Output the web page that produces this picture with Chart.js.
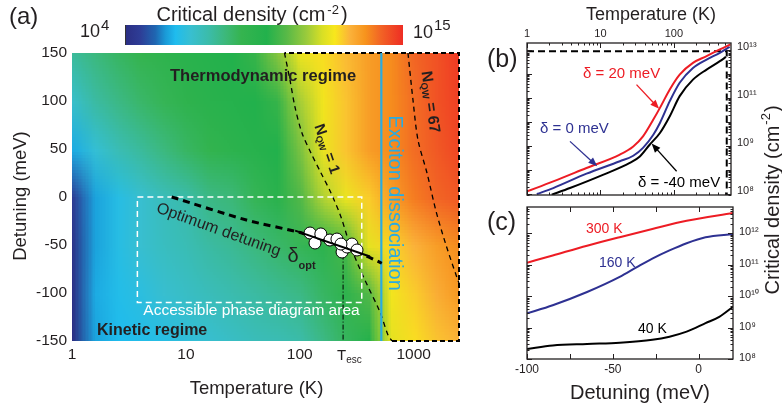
<!DOCTYPE html>
<html>
<head>
<meta charset="utf-8">
<script src="https://cdn.jsdelivr.net/npm/chart.js@4.4.1/dist/chart.umd.min.js"></script>
<style>
  html, body { margin: 0; padding: 0; background: #fff; }
  #wrap { position: relative; width: 782px; height: 410px; overflow: hidden; background: #fff; }
  #wrap canvas { position: absolute; left: 0; top: 0; }
</style>
</head>
<body>
<div id="wrap">
  <canvas id="ca" width="782" height="410"></canvas>
  <canvas id="cb" width="782" height="410"></canvas>
  <canvas id="cc" width="782" height="410"></canvas>
</div>
<script>
// ---------- (a) critical density map: log10(n / cm^-2) vs temperature and detuning ----------
const mapTemps = [1, 1.585, 2.512, 3.981, 6.31, 10, 15.85, 25.12, 39.81, 63.1, 100, 158.5, 251.2, 398.1, 631, 1000, 1585, 2512];
const mapDetunings = [150, 100, 50, 0, -50, -100, -150];
const mapLogDensity = [
  [7.5, 7.9, 8.3, 8.6, 8.9, 9.2, 9.4, 9.6, 9.9, 10.9, 12.1, 12.4, 12.8, 13.3, 13.6, 14.1, 14.4, 14.8],
  [6.7, 7.4, 7.8, 8.2, 8.5, 8.9, 9.2, 9.4, 9.6, 9.9, 11.3, 12.2, 12.7, 13.3, 13.6, 14.0, 14.4, 14.7],
  [5.8, 6.5, 7.1, 7.5, 7.9, 8.3, 8.7, 9.0, 9.3, 9.6, 10.8, 12.1, 12.7, 13.3, 13.6, 14.0, 14.3, 14.6],
  [4.5, 5.7, 6.2, 6.6, 7.0, 7.3, 7.8, 8.0, 8.5, 9.2, 10.3, 11.4, 12.1, 12.6, 13.3, 13.8, 14.1, 14.3],
  [4.2, 5.7, 6.2, 6.6, 6.9, 7.1, 7.4, 7.6, 7.9, 8.2, 8.5, 9.0, 10.2, 12.0, 12.5, 12.9, 13.3, 13.6],
  [4.1, 5.8, 6.1, 6.3, 6.6, 6.8, 7.0, 7.2, 7.4, 7.6, 7.8, 8.3, 8.9, 10.3, 12.2, 12.6, 13.0, 13.4],
  [4.0, 5.7, 6.0, 6.1, 6.2, 6.4, 6.6, 6.8, 7.0, 7.1, 7.3, 7.8, 8.4, 9.5, 12.0, 12.4, 12.7, 12.9]
];

// colour scale of the map (log10 density -> colour)
const cbarMin = 4, cbarMax = 15;
const cmapLevels = [4.0, 4.6, 5.2, 5.6, 6.0, 6.6, 7.3, 8.0, 8.6, 9.6, 10.4, 11.2, 11.8, 12.3, 12.9, 13.5, 14.1, 15.0];
const cmapColors = ['#2b2e83', '#2e3d96', '#1f66b1', '#1a9ad7', '#1fbcee', '#38bfd0', '#3bbcaa', '#3cb878', '#35b44f',
                    '#22b14c', '#58b947', '#9ccb3b', '#d8df25', '#f8e71c', '#fbb23a', '#f7941d', '#f26525', '#ee2d24'];

const tempTicksA = [1, 10, 100, 1000];
const detTicksA = [-150, -100, -50, 0, 50, 100, 150];

// boundaries and curves drawn on the map (temperature K, detuning meV)
const nqw1Temps = [73.4, 82, 90.7, 104.5, 125.4, 153.5, 188, 230, 276, 366, 506, 595, 645];
const nqw1Det   = [150, 121.9, 93.8, 66.7, 45.8, 25, 4.2, -20.8, -50, -84.4, -119.8, -143.8, -150];
const nqw1BoxTemps = [645, 2500, 2500, 73.4];
const nqw1BoxDet   = [-150, -150, 150, 150];
const nqw67Temps = [891, 986, 1091, 1309, 1570, 1922, 2400, 2500];
const nqw67Det   = [150, 101, 59.4, 25, -14.6, -50, -84, -89.6];
const dissocTemps = [520, 520];
const dissocDet   = [150, -150];
const escTemps = [240, 240];
const escDet   = [-60, -150];
const areaTemps = [3.75, 350, 350, 3.75, 3.75];
const areaDet   = [0, 0, -110, -110, 0];
const optTemps = [7.5, 34, 107, 359, 525];
const optDet   = [0, -24, -38, -60, -69];
const fitTemps = [91, 413];
const fitDet   = [-35, -62];
const expTemps = [123, 136, 153, 184, 212, 235, 260, 287, 318, 230];
const expDet   = [-37.5, -47.9, -38.5, -44.8, -43.8, -57.3, -52.1, -49.0, -55.2, -49.0];

// ---------- (b) critical density vs temperature ----------
const tempTicksB = [1, 10, 100];
const tempsB20  = [1, 2.28, 6.46, 18.4, 28, 38, 52.5, 64.6, 88, 120, 182, 279, 423, 589];
const logNB20   = [7.1, 7.52, 8.08, 8.64, 8.98, 9.40, 10.1, 10.59, 11.36, 11.98, 12.47, 12.75, 13.03, 13.24];
const tempsB0   = [1.36, 2.28, 6.46, 18.4, 28, 38, 52.5, 64.6, 88, 120, 182, 279, 423, 575];
const logNB0    = [6.99, 7.24, 7.84, 8.36, 8.59, 8.92, 9.47, 9.96, 10.87, 11.64, 12.26, 12.61, 12.89, 13.14];
const tempsBm40 = [2.17, 3.85, 11, 25.1, 34.4, 46.8, 64.6, 88, 120, 182, 279, 423, 513];
const logNBm40  = [6.96, 7.24, 7.8, 8.29, 8.56, 9.05, 9.54, 10.24, 11.08, 11.77, 12.19, 12.54, 12.72];
const boxTempsB = [1, 525, 525];
const boxLogNB  = [12.96, 12.96, 6.95];
const densTickValsB   = [1e7, 1e9, 1e11, 1e13];
const densTickPowersB = [8, 9, 11, 13];

// ---------- (c) critical density vs detuning ----------
const detTicksC = [-100, -50, 0];
const detC300  = [-100, -85, -65, -46, -27, -7, 20];
const logNC300 = [11.06, 11.29, 11.6, 11.87, 12.13, 12.39, 12.64];
const detC160  = [-100, -85, -65, -46, -36, -27, -17, -7, 4, 20];
const logNC160 = [9.45, 9.71, 10.13, 10.61, 10.92, 11.19, 11.45, 11.68, 11.87, 11.97];
const detC40   = [-100, -85, -65, -46, -27, -17, -7, 4, 12, 20];
const logNC40  = [8.32, 8.43, 8.48, 8.52, 8.61, 8.71, 8.87, 9.14, 9.34, 9.66];
const densTickPowersC = [8, 9, 10, 11, 12];

// ---------- helpers ----------
const FONT = '"Liberation Sans", Arial, Helvetica, sans-serif';
const INK = '#231f20';
const RED = '#ed1c24', BLUE = '#2e3192', SKY = '#29abe2';
Chart.defaults.font.family = FONT;
Chart.defaults.color = INK;

const SUP = { '0': '⁰', '1': '¹', '2': '²', '3': '³', '4': '⁴', '5': '⁵', '6': '⁶', '7': '⁷', '8': '⁸', '9': '⁹', '-': '⁻' };
const sup = s => String(s).split('').map(c => SUP[c]).join('');
const pts = (xs, ys) => xs.map((x, i) => ({ x, y: ys[i] }));
const ptsLog = (xs, ls) => xs.map((x, i) => ({ x, y: Math.pow(10, ls[i]) }));

function lineSet(data, color, width, dash, extra) {
  return Object.assign({
    data, showLine: true, borderColor: color, borderWidth: width, borderDash: dash || [],
    pointRadius: 0, pointHoverRadius: 0, fill: false, tension: 0
  }, extra || {});
}

function hexToRgb(h) { const n = parseInt(h.slice(1), 16); return [(n >> 16) & 255, (n >> 8) & 255, n & 255]; }
const cmapRgb = cmapColors.map(hexToRgb);
function colourFor(v) {
  if (v <= cmapLevels[0]) return cmapRgb[0];
  for (let i = 1; i < cmapLevels.length; i++) {
    if (v <= cmapLevels[i]) {
      const t = (v - cmapLevels[i - 1]) / (cmapLevels[i] - cmapLevels[i - 1]);
      const a = cmapRgb[i - 1], b = cmapRgb[i];
      return a.map((c, k) => Math.round(c + (b[k] - c) * t));
    }
  }
  return cmapRgb[cmapRgb.length - 1];
}

// text made of runs (for sub/superscripts), optionally rotated about (x, y)
function rich(ctx, parts, x, y, align, angle, baseline) {
  ctx.save();
  ctx.translate(x, y);
  if (angle) ctx.rotate(angle * Math.PI / 180);
  ctx.textAlign = 'left';
  ctx.textBaseline = baseline || 'alphabetic';
  const f = p => (p.b ? 'bold ' : '') + p.s + 'px ' + FONT;
  let w = 0;
  for (const p of parts) { ctx.font = f(p); w += ctx.measureText(p.t).width + (p.gap || 0); }
  let cx = align === 'center' ? -w / 2 : align === 'right' ? -w : 0;
  for (const p of parts) {
    ctx.font = f(p);
    cx += p.gap || 0;
    ctx.fillText(p.t, cx, p.dy || 0);
    cx += ctx.measureText(p.t).width;
  }
  ctx.restore();
}

function arrow(ctx, x0, y0, x1, y1, color) {
  const ang = Math.atan2(y1 - y0, x1 - x0), L = 9, W = 3.6;
  ctx.save();
  ctx.strokeStyle = color; ctx.fillStyle = color; ctx.lineWidth = 1.3;
  ctx.beginPath(); ctx.moveTo(x0, y0);
  ctx.lineTo(x1 - L * 0.8 * Math.cos(ang), y1 - L * 0.8 * Math.sin(ang)); ctx.stroke();
  ctx.beginPath(); ctx.moveTo(x1, y1);
  ctx.lineTo(x1 - L * Math.cos(ang) + W * Math.sin(ang), y1 - L * Math.sin(ang) - W * Math.cos(ang));
  ctx.lineTo(x1 - L * Math.cos(ang) - W * Math.sin(ang), y1 - L * Math.sin(ang) + W * Math.cos(ang));
  ctx.closePath(); ctx.fill();
  ctx.restore();
}

// frame with inward major/minor ticks on all four sides
const framePlugin = {
  id: 'frame',
  afterDatasetsDraw(chart, args, o) {
    const { ctx, chartArea: a, scales: { x, y } } = chart;
    ctx.save();
    ctx.strokeStyle = INK; ctx.lineWidth = 1;
    const seg = (x0, y0, x1, y1) => { ctx.beginPath(); ctx.moveTo(x0, y0); ctx.lineTo(x1, y1); ctx.stroke(); };
    const xs = (list, len) => list.forEach(v => { const p = Math.round(x.getPixelForValue(v)) + 0.5;
      seg(p, a.top, p, a.top + len); seg(p, a.bottom, p, a.bottom - len); });
    const ys = (list, len) => list.forEach(v => { const p = Math.round(y.getPixelForValue(v)) + 0.5;
      seg(a.left, p, a.left + len, p); seg(a.right, p, a.right - len, p); });
    xs(o.xMajor, 5); xs(o.xMinor, 2.5); ys(o.yMajor, 5); ys(o.yMinor, 2.5);
    ctx.lineWidth = 1.3;
    ctx.strokeRect(a.left, a.top, a.right - a.left, a.bottom - a.top);
    ctx.restore();
  }
};

// ---------- (a) ----------
const densityMap = {
  id: 'densityMap',
  beforeDatasetsDraw(chart) {
    const { ctx, chartArea: a, scales: { x, y } } = chart;
    const nc = mapTemps.length, nr = mapDetunings.length;
    const off = document.createElement('canvas');
    off.width = nc; off.height = nr;
    const octx = off.getContext('2d');
    const img = octx.createImageData(nc, nr);
    for (let r = 0; r < nr; r++) for (let c = 0; c < nc; c++) {
      const rgb = colourFor(mapLogDensity[r][c]), k = (r * nc + c) * 4;
      img.data[k] = rgb[0]; img.data[k + 1] = rgb[1]; img.data[k + 2] = rgb[2]; img.data[k + 3] = 255;
    }
    octx.putImageData(img, 0, 0);
    const x0 = x.getPixelForValue(mapTemps[0]), x1 = x.getPixelForValue(mapTemps[nc - 1]);
    const y0 = y.getPixelForValue(mapDetunings[0]), y1 = y.getPixelForValue(mapDetunings[nr - 1]);
    const hx = (x1 - x0) / (nc - 1) / 2, hy = (y1 - y0) / (nr - 1) / 2;
    ctx.save();
    ctx.beginPath(); ctx.rect(a.left, a.top, a.right - a.left, a.bottom - a.top); ctx.clip();
    ctx.imageSmoothingEnabled = true; ctx.imageSmoothingQuality = 'low';
    ctx.drawImage(off, x0 - hx, y0 - hy, (x1 - x0) + 2 * hx, (y1 - y0) + 2 * hy);
    ctx.restore();
  }
};

const panelAText = {
  id: 'panelAText',
  afterDraw(chart) {
    const ctx = chart.ctx;
    ctx.save();
    ctx.fillStyle = INK;
    rich(ctx, [{ t: '(a)', s: 24 }], 9, 24, 'left');
    rich(ctx, [{ t: 'Critical density (cm', s: 20 }, { t: '-2', s: 13, dy: -7, gap: 2 }, { t: ')', s: 20, gap: 2 }], 252, 21, 'center');
    // colour bar
    const bx0 = 125, bx1 = 403, by0 = 25, by1 = 45;
    const g = ctx.createLinearGradient(bx0, 0, bx1, 0);
    cmapLevels.forEach((lv, i) => g.addColorStop((lv - cbarMin) / (cbarMax - cbarMin), cmapColors[i]));
    ctx.fillStyle = g; ctx.fillRect(bx0, by0, bx1 - bx0, by1 - by0);
    ctx.fillStyle = '#333'; ctx.fillRect(bx0, by0, 1, by1 - by0);
    ctx.fillStyle = INK;
    rich(ctx, [{ t: '10', s: 18 }, { t: String(cbarMin), s: 15, dy: -7, gap: 1 }], 80, 37, 'left');
    rich(ctx, [{ t: '10', s: 18 }, { t: String(cbarMax), s: 15, dy: -8, gap: 1 }], 413, 38, 'left');
    // axis titles
    rich(ctx, [{ t: 'Temperature (K)', s: 18.5 }], 256.5, 394, 'center');
    rich(ctx, [{ t: 'Detuning (meV)', s: 18.5 }], 21, 196, 'center', -90, 'middle');
    rich(ctx, [{ t: 'T', s: 15 }, { t: 'esc', s: 10, dy: 3 }], 337, 360, 'left');
    // regime labels
    rich(ctx, [{ t: 'Thermodynamic regime', s: 16.5, b: 1 }], 170, 81, 'left');
    rich(ctx, [{ t: 'Kinetic regime', s: 16, b: 1 }], 97, 335, 'left');
    rich(ctx, [{ t: 'Optimum detuning', s: 16 }], 218.5, 230, 'center', 19.7, 'middle');
    rich(ctx, [{ t: 'δ', s: 20 }], 293, 256, 'center', 0, 'middle');
    rich(ctx, [{ t: 'opt', s: 11, b: 1 }], 307, 266, 'center', 0, 'middle');
    rich(ctx, [{ t: 'N', s: 15, b: 1 }, { t: 'QW', s: 9, b: 1, dy: 4 }, { t: ' = 1', s: 15, b: 1 }], 326.5, 149, 'center', 71, 'middle');
    rich(ctx, [{ t: 'N', s: 15.5, b: 1 }, { t: 'QW', s: 9.5, b: 1, dy: 4 }, { t: ' = 67', s: 15.5, b: 1 }], 430, 102, 'center', 82, 'middle');
    ctx.fillStyle = '#fff';
    rich(ctx, [{ t: 'Accessible phase diagram area', s: 15.5 }], 251.5, 315, 'center');
    ctx.fillStyle = SKY;
    rich(ctx, [{ t: 'Exciton dissociation', s: 20 }], 395, 203, 'center', 90, 'middle');
    ctx.restore();
  }
};

new Chart(document.getElementById('ca'), {
  type: 'scatter',
  data: {
    datasets: [
      lineSet(pts(fitTemps, fitDet), '#000', 2),
      { data: pts(expTemps, expDet), showLine: false, pointRadius: 6, pointHoverRadius: 6,
        pointBackgroundColor: '#fff', pointBorderColor: '#000', pointBorderWidth: 1 },
      lineSet(pts(optTemps, optDet), '#000', 3, [7, 5], { tension: 0.25 }),
      lineSet(pts(escTemps, escDet), '#000', 1, [5, 2, 1, 2]),
      lineSet(pts(areaTemps, areaDet), '#fff', 1.5, [6, 4]),
      lineSet(pts(dissocTemps, dissocDet), SKY, 2.2),
      lineSet(pts(nqw67Temps, nqw67Det), '#000', 1.3, [5, 4], { tension: 0.3, clip: false }),
      lineSet(pts(nqw1BoxTemps, nqw1BoxDet), '#000', 2, [5, 3], { clip: false }),
      lineSet(pts(nqw1Temps, nqw1Det), '#000', 1.3, [5, 4], { tension: 0.3, clip: false })
    ]
  },
  options: {
    responsive: false, animation: false, events: [],
    layout: { padding: { left: 0, right: 323, top: 53, bottom: 0 } },
    plugins: { legend: { display: false }, tooltip: { enabled: false } },
    scales: {
      x: {
        type: 'logarithmic', position: 'bottom', min: 1, max: 2500,
        afterBuildTicks: s => { s.ticks = tempTicksA.map(v => ({ value: v })); },
        afterFit: s => { s.height = 69; },
        grid: { display: false, drawTicks: false }, border: { display: false },
        ticks: { callback: v => String(v), font: { size: 15.5 }, color: INK, padding: 4, maxRotation: 0, autoSkip: false }
      },
      y: {
        type: 'linear', min: -150, max: 150,
        afterBuildTicks: s => { s.ticks = detTicksA.map(v => ({ value: v })); },
        afterFit: s => { s.width = 72; },
        grid: { display: false, drawTicks: false }, border: { display: false },
        ticks: { callback: v => String(v), font: { size: 15.5 }, color: INK, padding: 5 }
      }
    }
  },
  plugins: [densityMap, panelAText]
});

// ---------- (b) ----------
const xMinorB = [], yMinorB = [], yMajorB = [];
for (let e = 0; e <= 2; e++) for (let k = 2; k <= 9; k++) { const v = k * Math.pow(10, e); if (v < 600) xMinorB.push(v); }
for (let e = 6; e <= 13; e++) {
  if (e >= 7) yMajorB.push(Math.pow(10, e));
  for (let k = 2; k <= 9; k++) { const v = k * Math.pow(10, e); if (v > Math.pow(10, 6.95) && v < Math.pow(10, 13.3)) yMinorB.push(v); }
}

const panelBText = {
  id: 'panelBText',
  afterDraw(chart) {
    const { ctx, scales: { x, y } } = chart;
    const P = (t, l) => [x.getPixelForValue(t), y.getPixelForValue(Math.pow(10, l))];
    ctx.save();
    ctx.fillStyle = INK;
    rich(ctx, [{ t: '(b)', s: 25 }], 487, 67, 'left');
    rich(ctx, [{ t: 'Temperature (K)', s: 18 }], 651, 20, 'center');
    ctx.fillStyle = RED;  rich(ctx, [{ t: 'δ = 20 meV', s: 15 }], 583, 78, 'left');
    ctx.fillStyle = BLUE; rich(ctx, [{ t: 'δ = 0 meV', s: 15 }], 540, 132.5, 'left');
    ctx.fillStyle = '#000'; rich(ctx, [{ t: 'δ = -40 meV', s: 15 }], 638, 186.5, 'left');
    let a = P(31, 11.56), b = P(63, 10.55); arrow(ctx, a[0], a[1], b[0], b[1], RED);
    a = P(3.85, 9.19); b = P(9.05, 8.15); arrow(ctx, a[0], a[1], b[0], b[1], BLUE);
    a = P(109, 7.94); b = P(49.8, 9.10); arrow(ctx, a[0], a[1], b[0], b[1], '#000');
    ctx.restore();
  }
};

new Chart(document.getElementById('cb'), {
  type: 'scatter',
  data: {
    datasets: [
      lineSet(ptsLog(tempsB20, logNB20), RED, 2, [], { cubicInterpolationMode: 'monotone' }),
      lineSet(ptsLog(tempsB0, logNB0), BLUE, 2, [], { cubicInterpolationMode: 'monotone' }),
      lineSet(ptsLog(tempsBm40, logNBm40), '#000', 2, [], { cubicInterpolationMode: 'monotone' }),
      lineSet(ptsLog(boxTempsB, boxLogNB), '#000', 2, [7, 4], { clip: false })
    ]
  },
  options: {
    responsive: false, animation: false, events: [],
    layout: { padding: { left: 527, right: 0, top: 0, bottom: 215 } },
    plugins: {
      legend: { display: false }, tooltip: { enabled: false },
      frame: { xMajor: tempTicksB, xMinor: xMinorB, yMajor: yMajorB, yMinor: yMinorB }
    },
    scales: {
      x: {
        type: 'logarithmic', position: 'top', min: 1, max: 600,
        afterBuildTicks: s => { s.ticks = tempTicksB.map(v => ({ value: v })); },
        afterFit: s => { s.height = 43; },
        grid: { display: false, drawTicks: false }, border: { display: false },
        ticks: { callback: v => String(v), font: { size: 11 }, color: INK, padding: 2, maxRotation: 0, autoSkip: false }
      },
      y: {
        type: 'logarithmic', position: 'right', min: Math.pow(10, 6.95), max: Math.pow(10, 13.3),
        afterBuildTicks: s => { s.ticks = densTickValsB.map(v => ({ value: v })); },
        afterFit: s => { s.width = 51; },
        grid: { display: false, drawTicks: false }, border: { display: false },
        ticks: { callback: (v, i) => '10' + sup(densTickPowersB[i]), font: { size: 11 }, color: INK, padding: 6, labelOffset: -3, autoSkip: false }
      }
    }
  },
  plugins: [framePlugin, panelBText]
});

// ---------- (c) ----------
const xMajorC = [-100, -75, -50, -25, 0], yMajorC = [], yMinorC = [];
for (let e = 8; e <= 12; e++) {
  yMajorC.push(Math.pow(10, e));
  for (let k = 2; k <= 9; k++) { const v = k * Math.pow(10, e); if (v < Math.pow(10, 12.83)) yMinorC.push(v); }
}

const panelCText = {
  id: 'panelCText',
  afterDraw(chart) {
    const ctx = chart.ctx;
    ctx.save();
    ctx.fillStyle = INK;
    rich(ctx, [{ t: '(c)', s: 25 }], 487, 229.5, 'left');
    rich(ctx, [{ t: 'Detuning (meV)', s: 20 }], 640, 399, 'center');
    rich(ctx, [{ t: 'Critical density (cm', s: 20 }, { t: '-2', s: 13, dy: -7, gap: 1 }, { t: ')', s: 20, gap: 1 }], 773, 200, 'center', -90, 'middle');
    ctx.fillStyle = RED;  rich(ctx, [{ t: '300 K', s: 14 }], 586, 233, 'left');
    ctx.fillStyle = BLUE; rich(ctx, [{ t: '160 K', s: 14 }], 599, 266.5, 'left');
    ctx.fillStyle = '#000'; rich(ctx, [{ t: '40 K', s: 14 }], 638, 333, 'left');
    ctx.restore();
  }
};

new Chart(document.getElementById('cc'), {
  type: 'scatter',
  data: {
    datasets: [
      lineSet(ptsLog(detC300, logNC300), RED, 2, [], { cubicInterpolationMode: 'monotone' }),
      lineSet(ptsLog(detC160, logNC160), BLUE, 2, [], { cubicInterpolationMode: 'monotone' }),
      lineSet(ptsLog(detC40, logNC40), '#000', 2, [], { cubicInterpolationMode: 'monotone' })
    ]
  },
  options: {
    responsive: false, animation: false, events: [],
    layout: { padding: { left: 527, right: 0, top: 207, bottom: 0 } },
    plugins: {
      legend: { display: false }, tooltip: { enabled: false },
      frame: { xMajor: xMajorC, xMinor: [], yMajor: yMajorC, yMinor: yMinorC }
    },
    scales: {
      x: {
        type: 'linear', min: -100, max: 20,
        afterBuildTicks: s => { s.ticks = detTicksC.map(v => ({ value: v })); },
        afterFit: s => { s.height = 51; },
        grid: { display: false, drawTicks: false }, border: { display: false },
        ticks: { callback: v => String(v), font: { size: 12 }, color: INK, padding: 3, maxRotation: 0, autoSkip: false }
      },
      y: {
        type: 'logarithmic', position: 'right', min: 1e8, max: Math.pow(10, 12.83),
        afterBuildTicks: s => { s.ticks = densTickPowersC.map(p => ({ value: Math.pow(10, p) })); },
        afterFit: s => { s.width = 49; },
        grid: { display: false, drawTicks: false }, border: { display: false },
        ticks: { callback: (v, i) => '10' + sup(densTickPowersC[i]), font: { size: 11 }, color: INK, padding: 6, labelOffset: -1, autoSkip: false }
      }
    }
  },
  plugins: [framePlugin, panelCText]
});
</script>
</body>
</html>
